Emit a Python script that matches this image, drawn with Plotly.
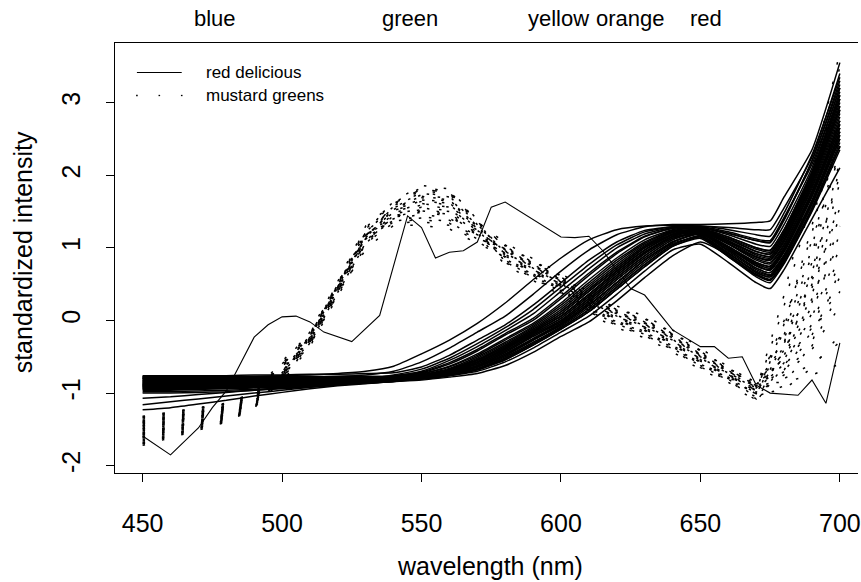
import plotly.graph_objects as go

# ---------------- data ----------------
# wavelength grid (nm) used for the red delicious spectra
wl_rd = [450, 460, 470, 480, 490, 500, 510, 520, 530, 540, 550, 560, 570, 580,
         590, 600, 610, 620, 630, 640, 650, 660, 670, 675, 680, 690, 700]

rd_01 = [-0.78,-0.78,-0.78,-0.77,-0.77,-0.76,-0.75,-0.73,-0.70,-0.63,-0.46,-0.27,-0.04,0.24,0.56,0.86,1.11,1.25,1.30,1.31,1.30,1.28,1.25,1.25,1.55,2.25,3.40]
rd_02 = [-0.80,-0.80,-0.80,-0.79,-0.79,-0.78,-0.78,-0.77,-0.75,-0.70,-0.57,-0.38,-0.16,0.06,0.36,0.68,0.97,1.18,1.29,1.32,1.32,1.33,1.35,1.37,1.70,2.35,3.55]
rd_03 = [-0.76,-0.76,-0.76,-0.76,-0.75,-0.75,-0.74,-0.74,-0.73,-0.72,-0.64,-0.48,-0.27,-0.06,0.21,0.52,0.83,1.08,1.24,1.29,1.28,1.20,1.10,1.08,1.40,2.20,3.30]
rd_04 = [-0.88,-0.88,-0.87,-0.87,-0.86,-0.85,-0.84,-0.82,-0.80,-0.77,-0.70,-0.55,-0.36,-0.14,0.09,0.40,0.71,1.00,1.19,1.28,1.27,1.15,1.00,0.97,1.25,2.05,3.10]
rd_05 = [-0.83,-0.83,-0.83,-0.82,-0.82,-0.82,-0.81,-0.80,-0.79,-0.77,-0.72,-0.60,-0.42,-0.20,0.00,0.30,0.62,0.92,1.15,1.27,1.25,1.10,0.92,0.88,1.15,1.95,3.00]
rd_06 = [-0.92,-0.92,-0.91,-0.91,-0.90,-0.89,-0.87,-0.85,-0.83,-0.80,-0.74,-0.63,-0.46,-0.25,-0.04,0.24,0.56,0.86,1.11,1.25,1.29,1.22,1.12,1.10,1.42,2.15,3.20]
rd_07 = [-0.86,-0.86,-0.86,-0.85,-0.85,-0.84,-0.83,-0.82,-0.81,-0.79,-0.75,-0.66,-0.50,-0.30,-0.08,0.18,0.49,0.80,1.06,1.23,1.24,1.05,0.85,0.80,1.05,1.85,2.85]
rd_08 = [-0.95,-0.95,-0.94,-0.93,-0.92,-0.91,-0.89,-0.87,-0.85,-0.82,-0.77,-0.68,-0.54,-0.34,-0.12,0.12,0.43,0.74,1.02,1.21,1.22,1.00,0.78,0.72,0.98,1.75,2.70]
rd_09 = [-0.80,-0.80,-0.80,-0.80,-0.79,-0.79,-0.79,-0.78,-0.78,-0.78,-0.75,-0.69,-0.55,-0.36,-0.14,0.09,0.40,0.71,1.00,1.19,1.26,1.15,1.00,0.96,1.25,2.05,3.15]
rd_10 = [-0.90,-0.90,-0.90,-0.89,-0.89,-0.88,-0.87,-0.86,-0.84,-0.82,-0.77,-0.70,-0.57,-0.38,-0.16,0.06,0.36,0.68,0.97,1.18,1.20,0.97,0.72,0.66,0.90,1.65,2.60]
rd_11 = [-0.84,-0.84,-0.84,-0.84,-0.83,-0.83,-0.82,-0.82,-0.81,-0.80,-0.76,-0.71,-0.58,-0.40,-0.18,0.03,0.33,0.65,0.94,1.16,1.25,1.10,0.90,0.86,1.12,1.92,2.95]
rd_12 = [-0.98,-0.98,-0.97,-0.96,-0.95,-0.93,-0.91,-0.89,-0.86,-0.83,-0.78,-0.72,-0.60,-0.42,-0.20,0.00,0.30,0.62,0.92,1.15,1.18,0.93,0.66,0.60,0.85,1.60,2.50]
rd_13 = [-0.87,-0.87,-0.87,-0.86,-0.86,-0.85,-0.84,-0.83,-0.82,-0.80,-0.78,-0.73,-0.62,-0.44,-0.22,-0.02,0.27,0.59,0.89,1.13,1.22,1.05,0.83,0.78,1.03,1.82,2.80]
rd_14 = [-0.81,-0.81,-0.81,-0.81,-0.80,-0.80,-0.80,-0.80,-0.79,-0.79,-0.77,-0.73,-0.63,-0.46,-0.25,-0.04,0.24,0.56,0.86,1.11,1.21,1.00,0.76,0.70,0.96,1.72,2.65]
rd_15 = [-0.93,-0.93,-0.92,-0.92,-0.91,-0.90,-0.89,-0.87,-0.85,-0.83,-0.79,-0.74,-0.64,-0.48,-0.27,-0.06,0.21,0.52,0.83,1.08,1.19,0.97,0.72,0.66,0.90,1.65,2.60]
rd_16 = [-0.79,-0.79,-0.79,-0.79,-0.79,-0.78,-0.78,-0.78,-0.78,-0.78,-0.77,-0.74,-0.66,-0.50,-0.30,-0.08,0.18,0.49,0.80,1.06,1.15,0.88,0.60,0.52,0.78,1.50,2.35]
rd_17 = [-0.89,-0.89,-0.89,-0.88,-0.88,-0.87,-0.86,-0.85,-0.84,-0.82,-0.80,-0.75,-0.67,-0.52,-0.32,-0.10,0.15,0.46,0.77,1.04,1.17,0.93,0.66,0.60,0.85,1.60,2.50]
rd_18 = [-1.00,-1.00,-0.99,-0.98,-0.96,-0.94,-0.92,-0.89,-0.86,-0.84,-0.81,-0.76,-0.68,-0.54,-0.34,-0.12,0.12,0.43,0.74,1.02,1.13,0.88,0.62,0.55,0.80,1.52,2.40]
rd_19 = [-0.85,-0.85,-0.85,-0.85,-0.84,-0.84,-0.83,-0.83,-0.82,-0.81,-0.80,-0.76,-0.70,-0.57,-0.38,-0.16,0.06,0.36,0.68,0.97,1.05,0.80,0.52,0.44,0.70,1.40,2.10]
rd_20 = [-0.91,-0.91,-0.91,-0.90,-0.90,-0.89,-0.88,-0.87,-0.86,-0.84,-0.82,-0.78,-0.73,-0.62,-0.44,-0.22,-0.02,0.27,0.59,0.89,1.08,0.90,0.64,0.57,0.82,1.55,2.45]
rd_21 = [-1.16,-1.12,-1.08,-1.04,-1.00,-0.96,-0.92,-0.88,-0.85,-0.82,-0.77,-0.70,-0.57,-0.38,-0.16,0.06,0.36,0.68,0.97,1.18,1.24,1.08,0.88,0.84,1.10,1.90,2.90]
rd_22 = [-1.23,-1.20,-1.15,-1.10,-1.04,-0.99,-0.94,-0.90,-0.87,-0.84,-0.79,-0.74,-0.64,-0.48,-0.27,-0.06,0.21,0.52,0.83,1.08,1.20,1.02,0.80,0.75,1.00,1.78,2.75]
rd_23 = [-1.07,-1.05,-1.02,-0.99,-0.96,-0.93,-0.90,-0.87,-0.84,-0.81,-0.76,-0.68,-0.54,-0.34,-0.12,0.12,0.43,0.74,1.02,1.21,1.26,1.12,0.95,0.92,1.20,2.00,3.05]
rd_24 = [-0.87,-0.87,-0.86,-0.86,-0.85,-0.84,-0.83,-0.81,-0.79,-0.76,-0.71,-0.58,-0.40,-0.18,0.03,0.33,0.65,0.94,1.16,1.27,1.28,1.18,1.05,1.02,1.32,2.10,3.20]
rd_25 = [-0.82,-0.82,-0.82,-0.82,-0.81,-0.81,-0.80,-0.80,-0.79,-0.77,-0.73,-0.64,-0.48,-0.27,-0.06,0.21,0.52,0.83,1.08,1.24,1.26,1.12,0.95,0.91,1.18,1.98,3.05]
rd_26 = [-0.94,-0.94,-0.93,-0.93,-0.92,-0.91,-0.89,-0.87,-0.84,-0.81,-0.76,-0.67,-0.52,-0.32,-0.10,0.15,0.46,0.77,1.04,1.22,1.22,0.99,0.75,0.69,0.94,1.70,2.65]
rd_27 = [-0.88,-0.88,-0.88,-0.87,-0.87,-0.86,-0.85,-0.84,-0.82,-0.80,-0.75,-0.69,-0.55,-0.36,-0.14,0.09,0.40,0.71,1.00,1.19,1.24,1.06,0.87,0.83,1.08,1.88,2.90]
rd_28 = [-0.96,-0.96,-0.95,-0.94,-0.93,-0.92,-0.90,-0.88,-0.85,-0.82,-0.77,-0.71,-0.58,-0.40,-0.18,0.03,0.33,0.65,0.94,1.16,1.22,1.02,0.80,0.74,1.00,1.78,2.75]
rd_29 = [-0.80,-0.80,-0.80,-0.80,-0.80,-0.79,-0.79,-0.79,-0.79,-0.78,-0.77,-0.72,-0.60,-0.42,-0.20,0.00,0.30,0.62,0.92,1.15,1.27,1.20,1.10,1.07,1.38,2.20,3.25]
rd_30 = [-0.91,-0.91,-0.90,-0.90,-0.89,-0.88,-0.87,-0.85,-0.83,-0.81,-0.78,-0.73,-0.62,-0.44,-0.22,-0.02,0.27,0.59,0.89,1.13,1.20,0.95,0.70,0.63,0.88,1.62,2.55]
rd_31 = [-0.85,-0.85,-0.85,-0.84,-0.84,-0.84,-0.83,-0.82,-0.81,-0.80,-0.78,-0.73,-0.63,-0.46,-0.25,-0.04,0.24,0.56,0.86,1.11,1.23,1.08,0.92,0.88,1.15,1.95,2.95]
rd_32 = [-0.77,-0.77,-0.77,-0.77,-0.77,-0.77,-0.77,-0.77,-0.77,-0.77,-0.77,-0.74,-0.64,-0.48,-0.27,-0.06,0.21,0.52,0.83,1.08,1.20,1.00,0.78,0.72,0.97,1.74,2.70]
rd_33 = [-0.93,-0.93,-0.93,-0.92,-0.92,-0.91,-0.90,-0.88,-0.86,-0.84,-0.80,-0.75,-0.67,-0.52,-0.32,-0.10,0.15,0.46,0.77,1.04,1.16,0.90,0.63,0.56,0.80,1.55,2.40]
rd_34 = [-0.83,-0.83,-0.83,-0.83,-0.83,-0.82,-0.82,-0.81,-0.81,-0.80,-0.79,-0.75,-0.68,-0.54,-0.34,-0.12,0.12,0.43,0.74,1.02,1.15,0.92,0.68,0.62,0.87,1.62,2.55]
rd_35 = [-0.78,-0.78,-0.78,-0.78,-0.78,-0.78,-0.78,-0.77,-0.77,-0.77,-0.76,-0.70,-0.57,-0.38,-0.16,0.06,0.36,0.68,0.97,1.18,1.25,1.13,0.98,0.94,1.22,2.02,3.10]
rd_36 = [-0.90,-0.90,-0.89,-0.89,-0.88,-0.87,-0.85,-0.83,-0.80,-0.75,-0.67,-0.52,-0.32,-0.10,0.15,0.46,0.77,1.04,1.22,1.29,1.30,1.25,1.18,1.16,1.48,2.28,3.35]

red_delicious = [rd_01, rd_02, rd_03, rd_04, rd_05, rd_06, rd_07, rd_08, rd_09, rd_10,
                 rd_11, rd_12, rd_13, rd_14, rd_15, rd_16, rd_17, rd_18, rd_19, rd_20,
                 rd_21, rd_22, rd_23, rd_24, rd_25, rd_26, rd_27, rd_28, rd_29, rd_30,
                 rd_31, rd_32, rd_33, rd_34, rd_35, rd_36]

# one atypical red delicious spectrum (own sampling points)
wl_rd_odd = [450, 460, 470, 475, 480, 490, 495, 500, 505, 510, 515, 525, 535, 545, 550,
             555, 560, 565, 570, 575, 580, 600, 605, 610, 615, 625, 630, 640, 650, 655,
             660, 665, 670, 675, 685, 690, 695, 700]
rd_odd = [-1.59, -1.85, -1.48, -1.20, -0.97, -0.23, -0.06, 0.05, 0.06, -0.02, -0.16, -0.29,
          0.07, 1.44, 1.28, 0.86, 0.94, 0.96, 1.08, 1.56, 1.63, 1.15, 1.14, 1.16, 0.96, 0.44,
          0.35, -0.13, -0.36, -0.36, -0.52, -0.50, -0.89, -1.00, -1.03, -0.82, -1.14, -0.31]

# wavelength grid (nm) used for the mustard greens spectra
wl_mg = [450, 460, 470, 480, 490, 500, 510, 520, 530, 540, 550, 560, 570, 580, 590,
         600, 610, 620, 630, 640, 650, 660, 670, 680, 690, 700]

mg_01 = [-1.34,-1.28,-1.22,-1.15,-1.00,-0.60,-0.21,0.49,1.22,1.55,1.71,1.66,1.30,0.97,0.75,0.55,0.29,0.10,-0.04,-0.23,-0.48,-0.70,-0.92,-0.80,-0.60,-0.30]
mg_02 = [-1.68,-1.58,-1.48,-1.37,-1.19,-0.83,-0.31,0.39,1.06,1.43,1.51,1.46,1.18,0.87,0.65,0.45,0.19,0.00,-0.14,-0.33,-0.58,-0.78,-1.00,-0.75,-0.40,0.20]
mg_03 = [-1.46,-1.39,-1.32,-1.23,-1.07,-0.60,-0.16,0.54,1.30,1.61,1.81,1.76,1.36,1.02,0.80,0.60,0.34,0.15,0.01,-0.18,-0.43,-0.67,-0.90,-0.70,-0.20,0.60]
mg_04 = [-1.58,-1.49,-1.41,-1.31,-1.13,-0.84,-0.36,0.34,1.03,1.46,1.56,1.51,1.21,0.82,0.60,0.40,0.14,-0.05,-0.19,-0.38,-0.63,-0.81,-1.05,-0.65,-0.05,0.90]
mg_05 = [-1.40,-1.33,-1.27,-1.19,-1.03,-0.67,-0.26,0.44,1.16,1.52,1.66,1.61,1.27,0.92,0.70,0.50,0.24,0.05,-0.09,-0.28,-0.53,-0.74,-0.95,-0.60,0.10,1.20]
mg_06 = [-1.72,-1.62,-1.51,-1.40,-1.21,-0.75,-0.21,0.49,1.13,1.37,1.41,1.36,1.12,1.00,0.78,0.58,0.32,0.13,-0.01,-0.20,-0.45,-0.68,-0.88,-0.55,0.25,1.45]
mg_07 = [-1.52,-1.44,-1.36,-1.27,-1.10,-0.75,-0.29,0.41,1.16,1.58,1.76,1.71,1.33,0.89,0.67,0.47,0.21,0.02,-0.12,-0.31,-0.56,-0.76,-0.97,-0.50,0.35,1.70]
mg_08 = [-1.32,-1.26,-1.21,-1.14,-0.99,-0.56,-0.18,0.52,1.18,1.40,1.46,1.41,1.15,1.04,0.82,0.62,0.36,0.17,0.03,-0.16,-0.41,-0.66,-0.85,-0.45,0.50,1.90]
mg_09 = [-1.62,-1.53,-1.44,-1.34,-1.16,-0.76,-0.26,0.44,1.22,1.64,1.86,1.81,1.39,0.80,0.58,0.38,0.12,-0.07,-0.21,-0.40,-0.65,-0.82,-1.10,-0.40,0.60,2.10]
mg_10 = [-1.44,-1.37,-1.30,-1.22,-1.06,-0.77,-0.34,0.36,1.06,1.49,1.61,1.56,1.24,0.95,0.73,0.53,0.27,0.08,-0.06,-0.25,-0.50,-0.72,-0.93,-0.30,0.80,2.40]
mg_11 = [-1.56,-1.48,-1.39,-1.30,-1.12,-0.71,-0.23,0.47,1.10,1.34,1.36,1.31,1.09,0.86,0.64,0.44,0.18,-0.01,-0.15,-0.34,-0.59,-0.78,-1.02,-0.20,1.00,2.70]
mg_12 = [-1.38,-1.31,-1.26,-1.18,-1.02,-0.68,-0.28,0.42,1.14,1.54,1.69,1.64,1.29,0.98,0.76,0.56,0.30,0.11,-0.03,-0.22,-0.47,-0.70,-0.90,-0.10,1.30,3.10]
mg_13 = [-1.66,-1.57,-1.47,-1.36,-1.18,-0.72,-0.20,0.50,1.18,1.44,1.53,1.48,1.19,0.90,0.68,0.48,0.22,0.03,-0.11,-0.30,-0.55,-0.75,-0.98,0.20,1.70,3.50]
mg_14 = [-1.48,-1.40,-1.33,-1.24,-1.08,-0.76,-0.32,0.38,1.13,1.60,1.79,1.74,1.35,1.07,0.85,0.65,0.39,0.20,0.06,-0.13,-0.38,-0.64,-0.87,-0.85,-0.75,-0.60]
mg_15 = [-1.70,-1.60,-1.50,-1.39,-1.20,-0.77,-0.24,0.46,1.12,1.42,1.49,1.44,1.17,0.77,0.55,0.35,0.09,-0.10,-0.24,-0.43,-0.68,-0.85,-1.12,-0.58,0.05,1.00]
mg_16 = [-1.42,-1.35,-1.29,-1.21,-1.05,-0.64,-0.22,0.48,1.22,1.56,1.73,1.68,1.31,0.94,0.72,0.52,0.26,0.07,-0.07,-0.26,-0.51,-0.73,-0.94,-0.48,0.30,1.30]
mg_17 = [-1.60,-1.51,-1.42,-1.32,-1.14,-0.79,-0.30,0.40,1.09,1.48,1.59,1.54,1.23,0.84,0.62,0.42,0.16,-0.03,-0.17,-0.36,-0.61,-0.80,-1.00,-0.35,0.55,1.60]
mg_18 = [-1.36,-1.30,-1.24,-1.17,-1.01,-0.59,-0.19,0.51,1.28,1.62,1.83,1.78,1.37,1.01,0.79,0.59,0.33,0.14,0.00,-0.19,-0.44,-0.68,-0.91,-0.25,0.70,2.00]
mg_19 = [-1.54,-1.46,-1.38,-1.28,-1.11,-0.80,-0.33,0.37,0.98,1.31,1.31,1.26,1.06,0.88,0.66,0.46,0.20,0.01,-0.13,-0.32,-0.57,-0.77,-0.96,0.00,1.10,2.30]
mg_20 = [-1.50,-1.42,-1.35,-1.26,-1.09,-0.70,-0.25,0.45,1.16,1.51,1.64,1.59,1.26,0.92,0.70,0.50,0.24,0.05,-0.09,-0.28,-0.53,-0.74,-1.05,-0.90,-0.30,0.70]
mg_21 = [-1.33,-1.27,-1.22,-1.15,-1.00,-0.61,-0.23,0.47,1.17,1.49,1.61,1.56,1.24,0.96,0.74,0.54,0.28,0.09,-0.05,-0.24,-0.49,-0.71,-0.93,-0.62,-0.10,0.80]
mg_22 = [-1.64,-1.55,-1.45,-1.35,-1.17,-0.79,-0.28,0.42,1.14,1.53,1.67,1.62,1.28,0.83,0.61,0.41,0.15,-0.04,-0.18,-0.37,-0.62,-0.80,-1.06,-0.70,-0.35,0.40]
mg_23 = [-1.45,-1.38,-1.31,-1.22,-1.06,-0.64,-0.21,0.49,1.14,1.38,1.43,1.38,1.13,0.99,0.77,0.57,0.31,0.12,-0.02,-0.21,-0.46,-0.69,-0.89,-0.52,0.20,1.10]
mg_24 = [-1.57,-1.49,-1.40,-1.30,-1.13,-0.74,-0.26,0.44,1.17,1.55,1.71,1.66,1.30,0.93,0.71,0.51,0.25,0.06,-0.08,-0.27,-0.52,-0.73,-0.99,-0.42,0.45,1.55]
mg_25 = [-1.39,-1.32,-1.26,-1.19,-1.03,-0.72,-0.31,0.39,1.07,1.45,1.55,1.50,1.20,0.85,0.63,0.43,0.17,-0.02,-0.16,-0.35,-0.60,-0.79,-1.01,-0.32,0.65,2.20]
mg_26 = [-1.69,-1.59,-1.49,-1.38,-1.19,-0.75,-0.22,0.48,1.22,1.57,1.75,1.70,1.32,0.96,0.74,0.54,0.28,0.09,-0.05,-0.24,-0.49,-0.71,-0.92,-0.15,0.90,2.55]
mg_27 = [-1.49,-1.41,-1.34,-1.25,-1.08,-0.72,-0.27,0.43,1.06,1.36,1.39,1.34,1.11,1.03,0.81,0.61,0.35,0.16,0.02,-0.17,-0.42,-0.66,-0.88,-0.68,-0.15,0.45]
mg_28 = [-1.61,-1.52,-1.43,-1.33,-1.15,-0.74,-0.24,0.46,1.17,1.51,1.65,1.60,1.26,0.81,0.59,0.39,0.13,-0.06,-0.20,-0.39,-0.64,-0.82,-1.08,-0.05,1.20,2.90]
mg_29 = [-1.41,-1.34,-1.28,-1.20,-1.04,-0.62,-0.20,0.50,1.26,1.61,1.81,1.76,1.36,0.91,0.69,0.49,0.23,0.04,-0.10,-0.29,-0.54,-0.75,-0.96,0.35,2.00,3.70]
mg_30 = [-1.55,-1.47,-1.38,-1.29,-1.12,-0.76,-0.29,0.41,1.08,1.43,1.51,1.46,1.18,0.98,0.76,0.56,0.30,0.11,-0.03,-0.22,-0.47,-0.70,-1.02,-0.95,-0.65,-0.20]

mustard_greens = [mg_01, mg_02, mg_03, mg_04, mg_05, mg_06, mg_07, mg_08, mg_09, mg_10,
                  mg_11, mg_12, mg_13, mg_14, mg_15, mg_16, mg_17, mg_18, mg_19, mg_20,
                  mg_21, mg_22, mg_23, mg_24, mg_25, mg_26, mg_27, mg_28, mg_29, mg_30]

x_ticks = [450, 500, 550, 600, 650, 700]
y_ticks = [-2, -1, 0, 1, 2, 3]
band_names = ["blue", "green", "yellow", "orange", "red"]
band_wl = [476, 546, 599, 625, 652]
legend_labels = ["red delicious", "mustard greens"]

# ---------------- layout geometry (pixels) ----------------
W, H = 861, 582
ML, MR, MT, MB = 115, 0, 43, 109
PW, PH = W - ML - MR, H - MT - MB
FONT = "Liberation Sans, Arial, Helvetica, sans-serif"


def px_x(px):
    return (px - ML) / PW


def px_y(py):
    return (H - MB - py) / PH


fig = go.Figure()

for spec in red_delicious:
    fig.add_trace(go.Scatter(x=wl_rd, y=spec, mode="lines",
                             line=dict(color="black", width=1.5, shape="spline", smoothing=0.5),
                             showlegend=False, hoverinfo="skip"))
fig.add_trace(go.Scatter(x=wl_rd_odd, y=rd_odd, mode="lines",
                         line=dict(color="black", width=1.1),
                         showlegend=False, hoverinfo="skip"))
for spec in mustard_greens:
    fig.add_trace(go.Scatter(x=wl_mg, y=spec, mode="lines",
                             line=dict(color="black", width=1.5, dash="2.5px,17.5px"),
                             showlegend=False, hoverinfo="skip"))

# legend drawn by hand (R style box-less legend)
shapes = [
    dict(type="line", xref="paper", yref="paper",
         x0=px_x(137), x1=px_x(182), y0=px_y(72.5), y1=px_y(72.5),
         line=dict(color="black", width=1)),
]
for dx in (137, 159.5, 182):
    shapes.append(dict(type="line", xref="paper", yref="paper",
                       x0=px_x(dx - 0.8), x1=px_x(dx + 0.8), y0=px_y(95.5), y1=px_y(95.5),
                       line=dict(color="black", width=1.3)))

annotations = []
for i, lab in enumerate(legend_labels):
    annotations.append(dict(text=lab, xref="paper", yref="paper",
                            x=px_x(204), y=px_y(72.5 + 23 * i), xanchor="left", yanchor="middle",
                            showarrow=False, font=dict(family=FONT, size=17, color="black")))
for name, w in zip(band_names, band_wl):
    annotations.append(dict(text=name, xref="x", yref="paper", x=w, y=px_y(19),
                            xanchor="center", yanchor="middle", showarrow=False,
                            font=dict(family=FONT, size=22, color="black")))
annotations.append(dict(text="wavelength (nm)", xref="paper", yref="paper",
                        x=px_x(492), y=px_y(566), xanchor="center", yanchor="middle",
                        showarrow=False, font=dict(family=FONT, size=25, color="black")))
annotations.append(dict(text="standardized intensity", xref="paper", yref="paper",
                        x=px_x(23), y=px_y(252), xanchor="center", yanchor="middle",
                        textangle=-90, showarrow=False,
                        font=dict(family=FONT, size=25, color="black")))

fig.update_layout(
    width=W, height=H,
    margin=dict(l=ML, r=MR, t=MT, b=MB, pad=0),
    paper_bgcolor="white", plot_bgcolor="white",
    showlegend=False,
    font=dict(family=FONT, size=25, color="black"),
    shapes=shapes, annotations=annotations,
    xaxis=dict(range=[440.1, 706.5], tickvals=x_ticks, ticktext=[str(v) for v in x_ticks],
               showgrid=False, zeroline=False, showline=True, linecolor="black", linewidth=1,
               mirror=True, ticks="outside", ticklen=8, tickcolor="black", tickwidth=1,
               ticklabelstandoff=20, ticklabeloverflow="allow",
               tickfont=dict(family=FONT, size=25, color="black")),
    yaxis=dict(range=[-2.10, 3.82], tickvals=y_ticks, ticktext=[str(v) for v in y_ticks],
               showgrid=False, zeroline=False, showline=True, linecolor="black", linewidth=1,
               mirror=False, ticks="outside", ticklen=8, tickcolor="black", tickwidth=1,
               ticklabelstandoff=16, ticklabeloverflow="allow",
               tickangle=-90, tickfont=dict(family=FONT, size=25, color="black")),
)

fig.write_html("out.html")
